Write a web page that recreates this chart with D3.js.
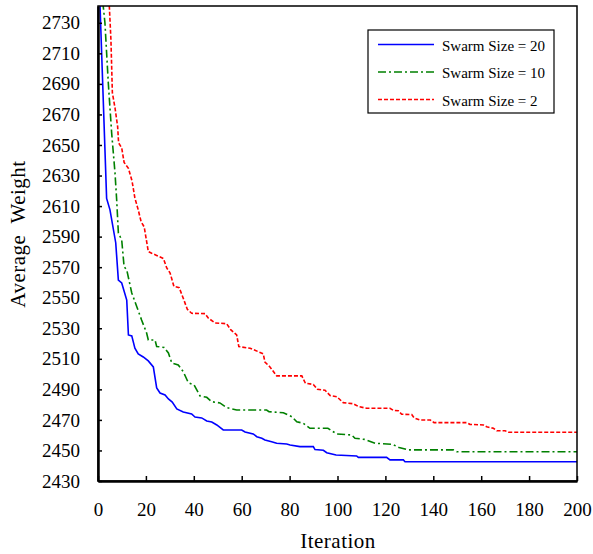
<!DOCTYPE html>
<html>
<head>
<meta charset="utf-8">
<script src="https://cdn.jsdelivr.net/npm/d3@7"></script>
<style>
    body { margin: 0; background: #fff; }
    svg text { font-family: "Liberation Serif", "Times New Roman", serif; fill: #000; }
</style>
</head>
<body>
<svg id="chart" width="593" height="554"></svg>
<script>
// Series: [iteration, average weight]
var swarm20 = [
    [0, 2780], [3.6, 2615], [5.0, 2607.5], [7.4, 2586], [8.5, 2561.6], [9.9, 2559.7],
    [12.0, 2548.5], [12.7, 2525.6], [14.1, 2525], [15.4, 2517], [16.8, 2513.2], [18.9, 2511.2],
    [21.0, 2508.6], [23.1, 2504.7], [24.5, 2490.9], [25.9, 2487.6], [28.0, 2486.3], [29.4, 2483.7],
    [31.0, 2481.7], [32.9, 2477.2], [35.6, 2475.2], [39.1, 2473.9], [40.5, 2471.9], [43.3, 2471.3],
    [45.4, 2469.3], [47.5, 2468.6], [49.6, 2466.7], [52.3, 2463.4], [60.0, 2463.4], [61.4, 2462.1],
    [64.8, 2460.8], [66.3, 2459], [68.4, 2458], [69.7, 2456.9], [72.5, 2455.7], [74.6, 2454.7],
    [78.8, 2454.2], [80.2, 2453.6], [84.3, 2452.5], [89.9, 2452.5], [90.6, 2450.6], [94.1, 2450.1],
    [95.5, 2448.5], [99.4, 2447], [108.0, 2446.4], [108.7, 2445.5], [120.5, 2445.5], [121.9, 2443.8],
    [127.5, 2443.8], [128.2, 2442.6], [200, 2442.6]
];

var swarm10 = [
    [0, 2775], [2.2, 2740.6], [2.9, 2729.9], [4.3, 2690.6], [5.7, 2657.9], [7.1, 2631.7],
    [7.8, 2614], [8.5, 2592.4], [9.9, 2587.8], [10.9, 2570.3], [12.0, 2568.2], [14.1, 2553.1],
    [16.2, 2544.1], [18.2, 2535.4], [20.3, 2526.9], [21.0, 2522.3], [23.8, 2522.3], [24.5, 2518.1],
    [27.6, 2517.4], [29.4, 2513.8], [30.8, 2507.3], [33.5, 2506], [35.6, 2501.6], [37.7, 2494.4],
    [40.1, 2492.9], [42.6, 2485.7], [45.4, 2484.8], [47.5, 2481.9], [50.9, 2481.1], [53.7, 2478.1],
    [57.9, 2476.5], [70.4, 2476.5], [71.4, 2475.4], [77.4, 2474.7], [80.9, 2472.1], [83.0, 2468.8],
    [85.7, 2467.8], [88.5, 2464.5], [96.0, 2464.5], [99.7, 2460.8], [105.9, 2460.1], [107.3, 2458],
    [111.5, 2457.2], [115.7, 2454.7], [123.0, 2454], [125.7, 2451.9], [129.6, 2450.4], [148.4, 2450.4],
    [149.8, 2449.2], [200, 2449.2]
];

var swarm2 = [
    [3, 2800], [4.6, 2745], [5.4, 2718.8], [6.0, 2684.1], [7.1, 2674.3], [8.2, 2662], [8.6, 2651.4],
    [9.9, 2648.1], [10.9, 2638.6], [12.7, 2634.7], [14.2, 2626.5], [15.4, 2615.3], [16.8, 2607.5],
    [18.0, 2599.8], [19.3, 2596.3], [21.0, 2580.2], [22.4, 2579.1], [24.5, 2577.7], [27.3, 2575.7],
    [28.7, 2569.5], [30.1, 2566.2], [31.7, 2557.4], [33.9, 2556.6], [35.6, 2549.6], [37.3, 2542.4],
    [39.1, 2539.8], [44.7, 2539.6], [46.1, 2536.6], [48.9, 2533.5], [53.7, 2533], [55.5, 2528.9],
    [57.9, 2525.6], [58.8, 2518], [63.5, 2516.9], [66.9, 2514.7], [69.0, 2513.2], [69.7, 2507.9],
    [71.8, 2504.7], [74.6, 2498.8], [85.1, 2498.8], [86.6, 2494], [89.9, 2493.2], [91.6, 2490.1],
    [94.8, 2489.4], [96.9, 2486], [99.7, 2485.2], [102.4, 2481.3], [106.6, 2480.6], [108.7, 2478.8],
    [112.2, 2477.6], [121.9, 2477.6], [123.3, 2476.3], [125.4, 2476], [126.8, 2473.7], [131.0, 2473.5],
    [132.0, 2471.3], [134.4, 2469.9], [138.8, 2469.9], [140.3, 2468.2], [153.9, 2468.2], [155.3, 2467.1],
    [160.9, 2466.7], [162.3, 2465.5], [165.1, 2464.5], [166.5, 2462.9], [170.0, 2462.9], [171.3, 2461.9],
    [200, 2461.9]
];

var seriesNames = ["Swarm Size = 20", "Swarm Size = 10", "Swarm Size = 2"];
var seriesColors = ["#0000ff", "#008000", "#ff0000"];
var seriesDashes = [null, "8,3,2,3", "4,2"];
var xTicks = [0, 20, 40, 60, 80, 100, 120, 140, 160, 180, 200];
var yTicks = [2430, 2450, 2470, 2490, 2510, 2530, 2550, 2570, 2590, 2610, 2630, 2650, 2670, 2690, 2710, 2730];

function drawChart() {
    var svg = d3.select("#chart");

    // plot box in page pixels
    var left = 98, right = 577, top = 6, bottom = 481;

    var x = d3.scaleLinear().domain([0, 200]).range([left, right]);
    var y = d3.scaleLinear().domain([2430, 2741]).range([bottom, top]);

    svg.append("rect")
        .attr("width", 593).attr("height", 554)
        .attr("fill", "#fff");

    // clip so the lines don't run out of the top
    svg.append("clipPath").attr("id", "plotClip")
        .append("rect")
        .attr("x", left).attr("y", top)
        .attr("width", right - left).attr("height", bottom - top);

    var line = d3.line()
        .x(function(d) { return x(d[0]); })
        .y(function(d) { return y(d[1]); });

    var allSeries = [swarm20, swarm10, swarm2];
    var lines = svg.append("g").attr("clip-path", "url(#plotClip)");

    // draw red first so blue sits on top
    for (var i = allSeries.length - 1; i >= 0; i--) {
        lines.append("path")
            .datum(allSeries[i])
            .attr("d", line)
            .attr("fill", "none")
            .attr("stroke", seriesColors[i])
            .attr("stroke-width", 1.6)
            .attr("stroke-dasharray", seriesDashes[i]);
    }

    // frame around the plot
    svg.append("rect")
        .attr("x", left).attr("y", top)
        .attr("width", right - left).attr("height", bottom - top)
        .attr("fill", "none")
        .attr("stroke", "#000")
        .attr("stroke-width", 1.5);

    // X axis, ticks pointing inward
    var xAxis = d3.axisBottom(x).tickValues(xTicks).tickFormat(d3.format("d"))
        .tickSizeInner(-5).tickSizeOuter(0).tickPadding(22);
    var gx = svg.append("g")
        .attr("transform", "translate(0," + bottom + ")")
        .call(xAxis)
        .attr("font-family", null)
        .attr("font-size", null);
    gx.select(".domain").attr("stroke-width", 2.5);
    gx.selectAll(".tick line").attr("stroke-width", 1.5);
    gx.selectAll(".tick text").style("font-size", "19px");

    // Y axis, ticks pointing inward
    var yAxis = d3.axisLeft(y).tickValues(yTicks).tickFormat(d3.format("d"))
        .tickSizeInner(-4).tickSizeOuter(0).tickPadding(18);
    var gy = svg.append("g")
        .attr("transform", "translate(" + left + ",0)")
        .call(yAxis)
        .attr("font-family", null)
        .attr("font-size", null);
    gy.select(".domain").attr("stroke-width", 2.5);
    gy.selectAll(".tick line").attr("stroke-width", 1.5);
    gy.selectAll(".tick text").style("font-size", "19px");

    // axis titles
    svg.append("text")
        .attr("text-anchor", "middle")
        .attr("x", 338)
        .attr("y", 548)
        .style("font-size", "21px")
        .style("letter-spacing", "0.5px")
        .text("Iteration");

    svg.append("text")
        .attr("text-anchor", "middle")
        .attr("transform", "translate(25,234) rotate(-90)")
        .style("font-size", "21px")
        .style("letter-spacing", "0.5px")
        .style("white-space", "pre")
        .text("Average  Weight");

    // legend
    var legend = svg.append("g");
    legend.append("rect")
        .attr("x", 368).attr("y", 30)
        .attr("width", 186).attr("height", 83)
        .attr("fill", "#fff")
        .attr("stroke", "#000")
        .attr("stroke-width", 1.2);

    var rowY = [44.5, 72, 99.5];
    seriesNames.forEach(function(name, i) {
        legend.append("line")
            .attr("x1", 378).attr("x2", 434)
            .attr("y1", rowY[i]).attr("y2", rowY[i])
            .attr("stroke", seriesColors[i])
            .attr("stroke-width", 1.4)
            .attr("stroke-dasharray", seriesDashes[i]);
        legend.append("text")
            .attr("x", 442)
            .attr("y", rowY[i] + 6)
            .style("font-size", "15px")
            .text(name);
    });
}

drawChart();
</script>
</body>
</html>
